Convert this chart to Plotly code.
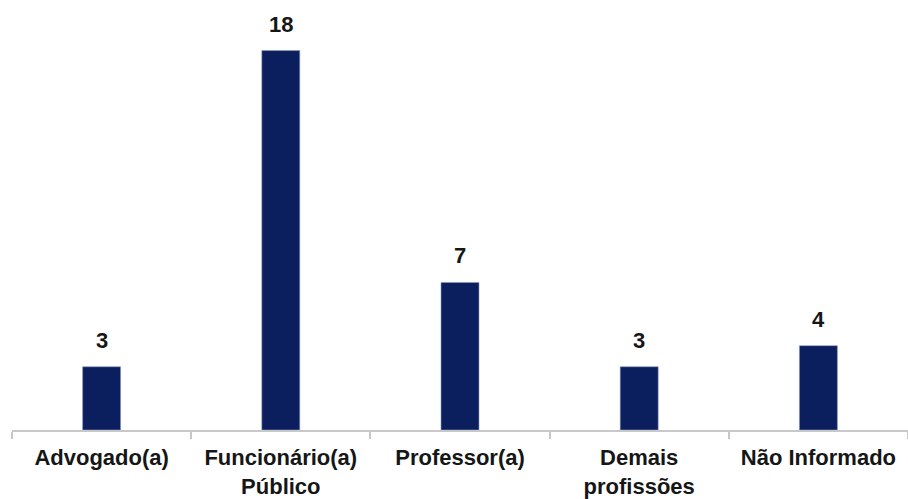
import plotly.graph_objects as go

# Profissão dos respondentes
categorias = ["Advogado(a)", "Funcionário(a)<br>Público", "Professor(a)",
              "Demais<br>profissões", "Não Informado"]
quantidades = [3, 18, 7, 3, 4]

cor_barra = "#0b1f5e"
cor_texto = "#161616"
fonte = dict(family="Liberation Sans, Arial, sans-serif", size=22, color=cor_texto)

fig = go.Figure(
    go.Bar(
        x=categorias,
        y=quantidades,
        marker=dict(color=cor_barra, line=dict(color="#8e9cc0", width=0.6)),
        hoverinfo="skip",
    )
)

# Rótulos de valor acima de cada barra
for cat, val in zip(categorias, quantidades):
    fig.add_annotation(
        x=cat, y=val, text=f"<b>{val}</b>", showarrow=False,
        yanchor="bottom", yshift=12, font=fonte,
    )

fig.update_layout(
    width=908, height=499,
    margin=dict(l=12, r=0, t=0, b=67),
    paper_bgcolor="white", plot_bgcolor="white",
    bargap=0.788,
    showlegend=False,
)
fig.update_xaxes(
    showline=True, linecolor="#c8c8c8", linewidth=1.5,
    ticks="outside", tickson="boundaries", ticklen=7, tickcolor="#c8c8c8",
    tickwidth=1.5,
    tickfont=fonte, ticklabelstandoff=7,
    ticktext=[f"<b>{c}</b>" for c in categorias], tickvals=categorias,
    showgrid=False,
)
fig.update_yaxes(visible=False, range=[0, 20.4], showgrid=False)

fig.write_html("out.html")
